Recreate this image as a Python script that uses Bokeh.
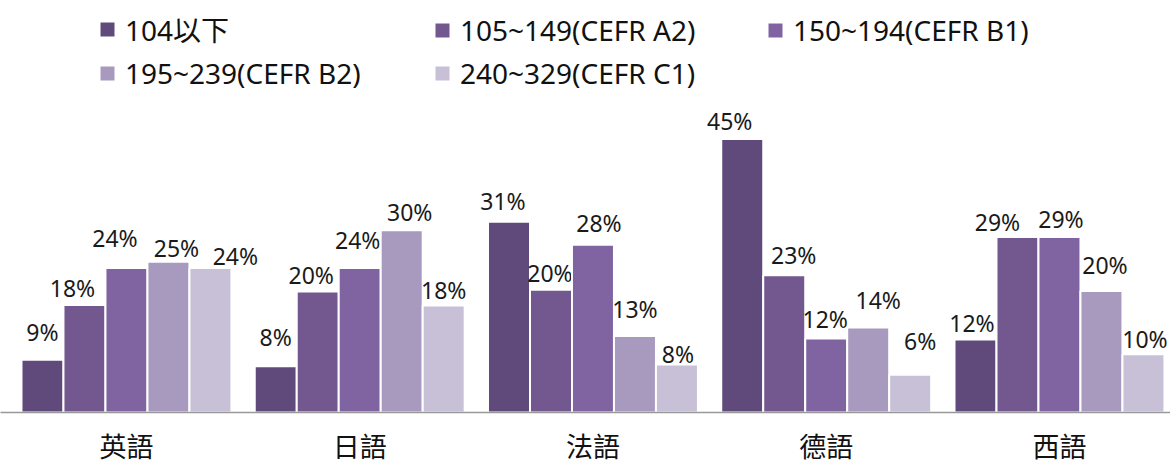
from bokeh.plotting import figure
from bokeh.models import ColumnDataSource, Range1d, FixedTicker, Legend, LegendItem
from bokeh.core.properties import value
from bokeh.embed import file_html
from bokeh.resources import INLINE

# ---- data ----
languages = ["英語", "日語", "法語", "德語", "西語"]
series_names = ["104以下", "105~149(CEFR A2)", "150~194(CEFR B1)",
                "195~239(CEFR B2)", "240~329(CEFR C1)"]
# percent of examinees per score band, one list per band, ordered like `languages`
band_104 = [8.7, 7.6, 31.4, 45.0, 12.0]
band_a2 = [17.7, 19.9, 20.2, 22.6, 28.9]
band_b1 = [23.8, 23.8, 27.6, 12.2, 28.9]
band_b2 = [24.8, 30.0, 12.6, 14.0, 20.0]
band_c1 = [23.8, 17.6, 7.9, 6.2, 9.6]
bands = [band_104, band_a2, band_b1, band_b2, band_c1]

# ---- styles / label placement (screen px) ----
colors = ["#5f4a7b", "#72588f", "#8064a2", "#a899bf", "#c8c0d7"]
label_dx = [[0, 0, -6, -12.5, -3.5],
            [-12, -6.5, -1, 9.5, -20],
            [-11.5, -2, 6, -1, 1.5],
            [8, 8, 0, 10, 3.5],
            [25, 0, 1, 10, 1.5]]
label_gap = [[19, 20, 12, 9, 8],
             [8, 8, 8, 11, 6],
             [21, 19, 13, 10, 9],
             [5, 9, 18, 18, 17],
             [3, 7, 2, 25, 6]]
legend_pos = [(97, 0), (432, 0), (765, 0), (97, 1), (432, 1)]

W, H = 1170, 465
FRAME_H = 413
PX_PER_PCT = 6.09
slot = 0.18
FONT = "Noto Sans, Noto Sans CJK TC"

p = figure(width=W, height=H, output_backend="svg",
           toolbar_location=None, y_axis_location=None,
           x_range=Range1d(-0.540, 4.476),
           y_range=Range1d(0, FRAME_H / PX_PER_PCT),
           min_border=0, min_border_left=0, min_border_right=0,
           min_border_top=0, min_border_bottom=H - FRAME_H,
           outline_line_color=None)
p.grid.visible = False

renderers = []
for k, vals in enumerate(bands):
    xs = [i + (k - 2) * slot for i in range(len(languages))]
    src = ColumnDataSource(dict(
        x=xs, top=vals,
        label=["%d%%" % round(v) for v in vals],
        dx=label_dx[k], dy=[-g - 9 for g in label_gap[k]],
    ))
    r = p.vbar(x="x", top="top", bottom=0, width=slot, source=src,
               fill_color=colors[k], line_color="white", line_width=2)
    renderers.append(r)
    p.text(x="x", y="top", text="label", x_offset="dx", y_offset="dy",
           source=src, text_align="center", text_baseline="alphabetic",
           text_font=value(FONT), text_font_size="23px", text_color="#1a1a1a")

ax = p.xaxis[0]
ax.ticker = FixedTicker(ticks=list(range(len(languages))))
ax.major_label_overrides = {i: name for i, name in enumerate(languages)}
ax.major_tick_line_color = None
ax.minor_tick_line_color = None
ax.major_tick_in = 0
ax.major_tick_out = 0
ax.axis_line_color = "#999999"
ax.axis_line_width = 1.5
ax.major_label_text_font = "DejaVu Sans, Noto Sans CJK TC"
ax.major_label_text_font_size = "27px"
ax.major_label_text_color = "#111111"
ax.major_label_standoff = 19

for k, (lx, row) in enumerate(legend_pos):
    center_from_top = 31 if row == 0 else 74
    item_h = 37
    ly = FRAME_H - center_from_top - item_h / 2
    leg = Legend(items=[LegendItem(label=series_names[k], renderers=[renderers[k]])],
                 location=(lx, ly), glyph_width=20, glyph_height=20,
                 label_standoff=8, padding=0, margin=0, spacing=0,
                 border_line_color=None, background_fill_alpha=0,
                 label_text_font=FONT, label_text_font_size="28px",
                 label_text_color="#111111", label_height=18)
    p.add_layout(leg)

open("out.html", "w").write(file_html(p, INLINE))
